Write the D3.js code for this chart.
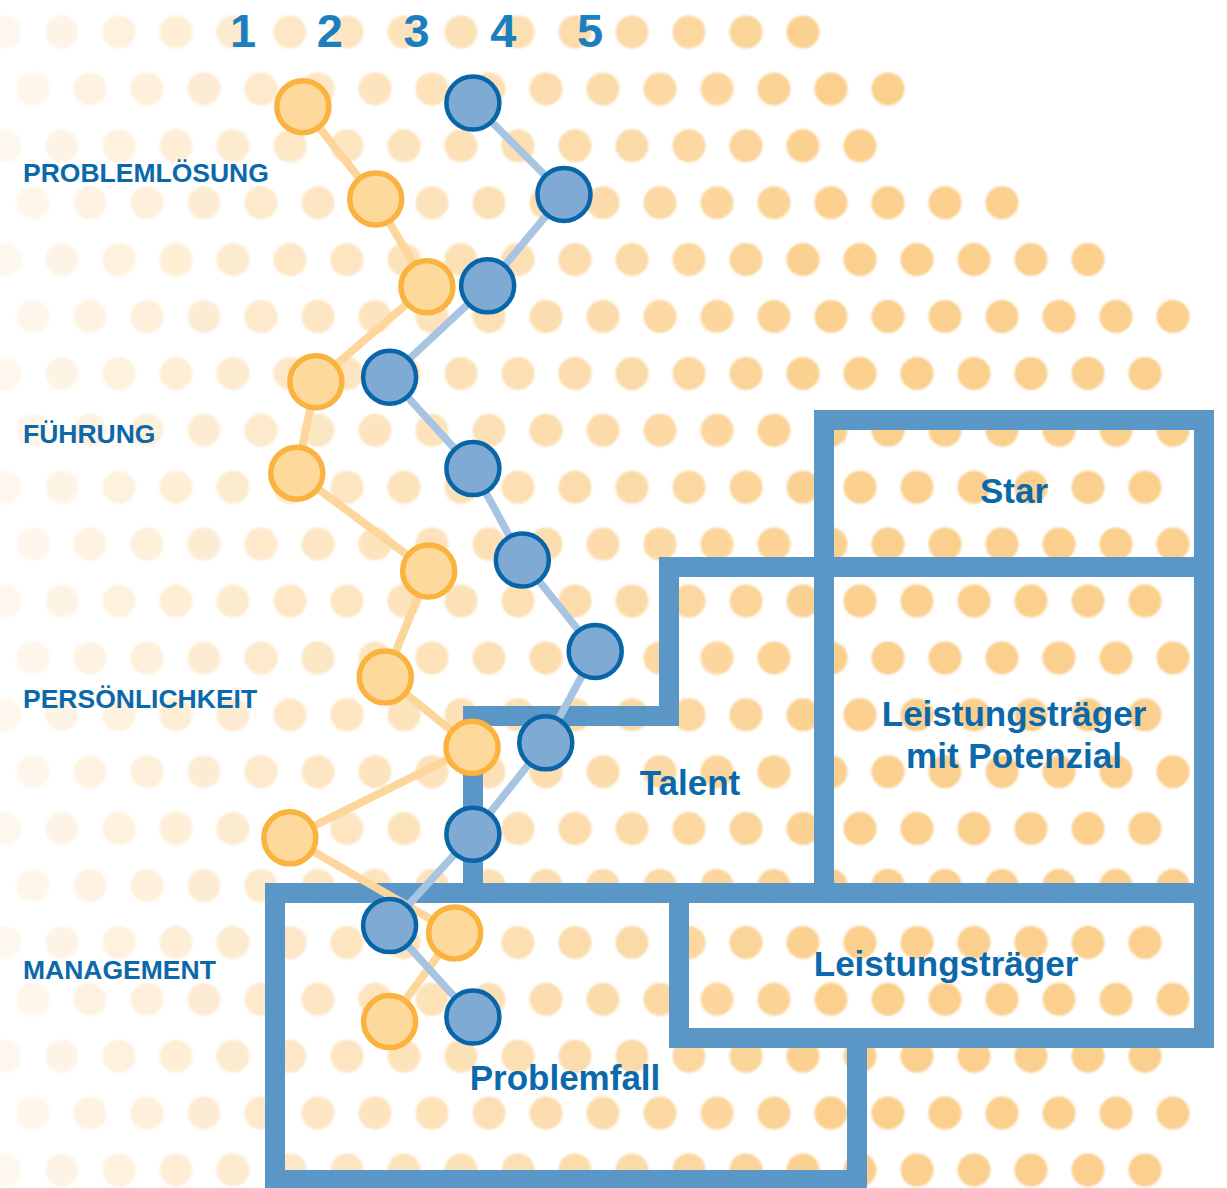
<!DOCTYPE html>
<html>
<head>
<meta charset="utf-8">
<script src="https://cdn.jsdelivr.net/npm/d3@7"></script>
<style>
  html, body { margin: 0; padding: 0; background: #ffffff; }
  svg { display: block; }
  text { font-family: "Liberation Sans", Arial, sans-serif; font-weight: bold; }
</style>
</head>
<body>
<div id="chart"></div>
<script>
// ---------- data ----------
const scaleTicks = [1, 2, 3, 4, 5];
const categories = ["PROBLEMLÖSUNG", "FÜHRUNG", "PERSÖNLICHKEIT", "MANAGEMENT"];
const categoryAnchor = [0.76, 3.62, 6.51, 9.48];          // row position of each category label

const orangeValues = [1.69, 2.53, 3.12, 1.84, 1.62, 3.14, 2.64, 3.64, 1.54, 3.44, 2.69];
const orangeRows   = [0.04, 1.05, 2.01, 3.05, 4.05, 5.12, 6.28, 7.05, 8.04, 9.08, 10.05];
const blueValues   = [3.65, 4.70, 3.82, 2.69, 3.65, 4.22, 5.06, 4.49, 3.65, 2.69, 3.65];
const blueRows     = [0, 1, 2, 3, 4, 5, 6, 7, 8, 9, 10];

const boxLabels = ["Star", "Leistungsträger\nmit Potenzial", "Talent", "Leistungsträger", "Problemfall"];

// ---------- setup ----------
const W = 1227, H = 1188;
const svg = d3.select("#chart").append("svg").attr("width", W).attr("height", H);
svg.append("rect").attr("width", W).attr("height", H).attr("fill", "#ffffff");

const x = d3.scaleLinear().domain([1, 5]).range([243, 590]);
const y = d3.scaleLinear().domain([0, 10]).range([103, 1017]);

const TEXT_BLUE = "#0b68ab";
const FRAME_BLUE = "#5a97c7";

// ---------- background dot pattern ----------
const defs = svg.append("defs");
defs.append("filter").attr("id", "soft")
  .append("feGaussianBlur").attr("stdDeviation", 0.8);

const dotRowCount = 21;
const dotRowLen = [15, 16, 16, 18, 20];   // staircase at the top right
const dots = [];
for (let r = 0; r < dotRowCount; r++) {
  const x0 = r % 2 === 0 ? 5 : 33;
  const n = r < dotRowLen.length ? dotRowLen[r] : 21;
  for (let k = 0; k < n; k++) dots.push({ cx: x0 + 57 * k, cy: 32 + 56.9 * r });
}
const fade = d3.scaleLinear().domain([0, 300, 600, 850]).range([0.15, 0.5, 0.74, 1]).clamp(true);
svg.append("g").attr("filter", "url(#soft)")
  .selectAll("circle").data(dots).join("circle")
  .attr("cx", d => d.cx).attr("cy", d => d.cy).attr("r", 16.5)
  .attr("fill", "#fbcf8d").attr("fill-opacity", d => fade(d.cx));

// ---------- category frames ----------
const segs = [
  // Star
  [824, 420, 1204, 420], [824, 420, 824, 893], [1204, 420, 1204, 1038],
  // Talent / Leistungsträger mit Potenzial
  [669, 567, 1204, 567], [669, 567, 669, 716], [473, 716, 669, 716], [473, 716, 473, 893],
  [275, 893, 1204, 893],
  // Leistungsträger
  [679, 893, 679, 1038], [679, 1038, 1204, 1038],
  // Problemfall
  [275, 893, 275, 1180], [275, 1180, 857, 1180], [857, 1038, 857, 1180]
];
svg.append("g").selectAll("line").data(segs).join("line")
  .attr("x1", d => d[0]).attr("y1", d => d[1]).attr("x2", d => d[2]).attr("y2", d => d[3])
  .attr("stroke", FRAME_BLUE).attr("stroke-width", 20).attr("stroke-linecap", "square");

// box labels
const boxLabelPos = [[1014, 503], [1014, 726], [690, 795], [946, 976], [565, 1090]];
const bl = svg.append("g");
boxLabels.forEach((t, i) => {
  const lines = t.split("\n");
  const tx = bl.append("text")
    .attr("x", boxLabelPos[i][0]).attr("y", boxLabelPos[i][1])
    .attr("text-anchor", "middle").attr("font-size", 35).attr("fill", TEXT_BLUE);
  lines.forEach((ln, j) => {
    tx.append("tspan").attr("x", boxLabelPos[i][0]).attr("dy", j === 0 ? 0 : 42).text(ln);
  });
});

// ---------- header tick labels ----------
svg.append("g").selectAll("text").data(scaleTicks).join("text")
  .attr("x", d => x(d)).attr("y", 47)
  .attr("text-anchor", "middle").attr("font-size", 47).attr("fill", "#1b7ebf")
  .text(d => d);

// ---------- category labels ----------
svg.append("g").selectAll("text").data(categories).join("text")
  .attr("x", 23).attr("y", (d, i) => y(categoryAnchor[i]) + 9.5)
  .attr("font-size", 26.5).attr("fill", TEXT_BLUE)
  .text(d => d);

// ---------- series ----------
const orange = orangeValues.map((v, i) => ({ v, r: orangeRows[i] }));
const blue = blueValues.map((v, i) => ({ v, r: blueRows[i] }));
const line = d3.line().x(d => x(d.v)).y(d => y(d.r));

svg.append("path").datum(orange).attr("d", line)
  .attr("fill", "none").attr("stroke", "#fdd69c").attr("stroke-width", 8).attr("stroke-linejoin", "round");
svg.append("path").datum(blue).attr("d", line)
  .attr("fill", "none").attr("stroke", "#a7c4e3").attr("stroke-width", 7.5).attr("stroke-linejoin", "round");

svg.append("g").selectAll("circle").data(orange).join("circle")
  .attr("cx", d => x(d.v)).attr("cy", d => y(d.r)).attr("r", 26)
  .attr("fill", "#fdd99c").attr("stroke", "#fbb340").attr("stroke-width", 5.5);
svg.append("g").selectAll("circle").data(blue).join("circle")
  .attr("cx", d => x(d.v)).attr("cy", d => y(d.r)).attr("r", 26.5)
  .attr("fill", "#7eaad4").attr("stroke", "#0866a8").attr("stroke-width", 4.5);
</script>
</body>
</html>
